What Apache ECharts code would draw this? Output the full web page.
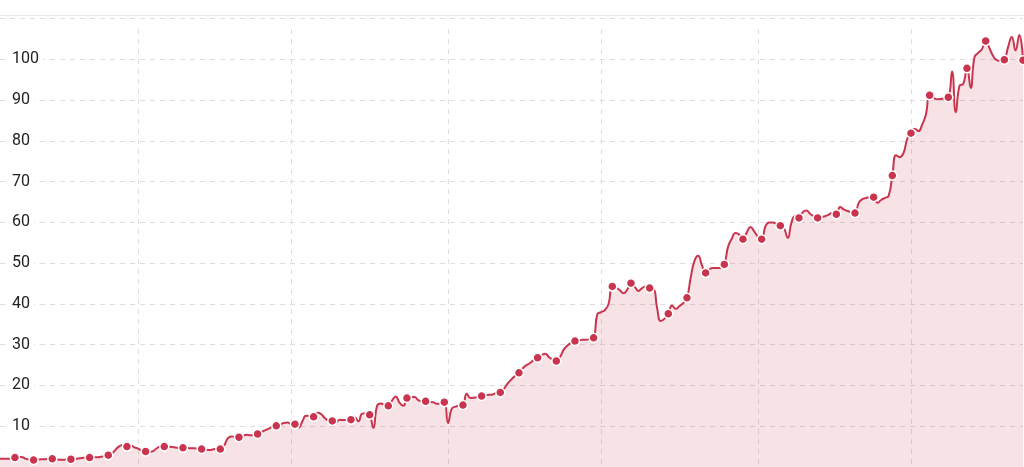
<!DOCTYPE html>
<html>
<head>
<meta charset="utf-8">
<script src="https://cdn.jsdelivr.net/npm/echarts@6/dist/echarts.min.js"></script>
<style>html,body{margin:0;padding:0;background:#fff}#c{width:1024px;height:467px}</style>
</head>
<body>
<div id="c"></div>
<script>
// Series values (one row per symbol interval: 4 in-between points + the marked point)
const values = [
  2.0, 2.0, 2.0, 2.1, 2.3,
  2.5, 2.4, 2.0, 1.8, 1.7,
  1.8, 1.9, 1.9, 2.0, 2.0,
  1.9, 1.8, 1.8, 1.9, 1.9,
  2.0, 2.1, 2.2, 2.3, 2.3,
  2.4, 2.4, 2.5, 2.7, 2.9,
  3.3, 4.3, 5.1, 5.4, 5.0,
  5.3, 4.8, 4.5, 4.0, 3.8,
  3.7, 3.9, 4.6, 5.0, 5.0,
  5.0, 4.9, 4.8, 4.7, 4.7,
  4.7, 4.6, 4.6, 4.5, 4.4,
  4.3, 4.2, 4.3, 4.5, 4.4,
  5.2, 7.0, 7.5, 7.4, 7.3,
  7.6, 7.9, 7.8, 7.8, 8.1,
  8.6, 9.0, 9.4, 9.9, 10.1,
  10.4, 10.8, 10.9, 10.5, 10.5,
  9.7, 11.2, 12.6, 12.5, 12.3,
  13.3, 13.0, 12.0, 11.4, 11.3,
  11.0, 11.6, 11.5, 11.5, 11.6,
  12.2, 11.2, 13.1, 13.2, 12.8,
  9.6, 15.0, 15.6, 15.2, 15.0,
  16.3, 17.3, 15.8, 15.0, 16.9,
  17.2, 17.2, 16.4, 16.1, 16.1,
  16.0, 15.9, 15.5, 15.6, 15.9,
  10.8, 14.3, 14.8, 15.0, 15.2,
  18.0, 16.9, 17.0, 17.2, 17.4,
  17.6, 17.7, 17.8, 18.2, 18.3,
  19.2, 20.5, 21.5, 22.4, 23.1,
  24.2, 25.0, 25.5, 26.3, 26.8,
  27.4, 27.8, 27.0, 26.3, 26.0,
  27.0, 28.8, 29.8, 30.5, 30.9,
  31.0, 31.2, 31.2, 31.4, 31.7,
  37.5, 38.0, 38.5, 40.0, 44.3,
  44.0, 43.4, 42.6, 43.5, 45.1,
  44.2, 43.2, 43.9, 44.3, 43.9,
  43.8, 39.0, 35.8, 36.4, 37.6,
  39.6, 38.8, 39.5, 40.2, 41.5,
  46.5, 50.5, 51.8, 49.5, 47.6,
  48.5, 48.8, 48.8, 48.9, 49.7,
  54.0, 56.0, 57.4, 57.0, 55.9,
  57.5, 58.9, 57.8, 56.5, 55.9,
  59.0, 60.0, 60.0, 59.6, 59.2,
  58.5, 56.2, 60.0, 61.6, 61.1,
  62.5, 62.9, 62.1, 61.5, 61.1,
  61.3, 61.5, 61.9, 62.4, 62.0,
  63.8, 63.2, 62.8, 62.5, 62.3,
  64.8, 65.7, 66.0, 66.2, 66.2,
  64.8, 65.5, 66.0, 66.5, 71.5,
  76.5, 76.0, 77.0, 80.5, 81.9,
  83.0, 82.4, 84.0, 86.5, 91.2,
  90.6, 90.2, 90.3, 90.5, 90.7,
  97.0, 87.0, 93.5, 94.0, 97.8,
  93.0, 100.5, 101.6, 102.5, 104.5,
  102.8, 100.8, 99.8, 99.6, 99.9,
  103.0, 105.5, 102.2, 106.0, 99.8
];
// Category positions (labels are not shown in the chart)
const categories = values.map((_, i) => String(i + 1));
// Indices of categories that carry a vertical divider
const dividerIndices = [37, 78, 120, 161, 203, 244];
// Y axis ticks
const yMin = 0, yMax = 110, yStep = 10;

const lineColor = '#c9354e';
const gridColor = '#dedede';

const chart = echarts.init(document.getElementById('c'), null, {renderer: 'canvas'});
chart.setOption({
  animation: false,
  backgroundColor: '#fff',
  grid: [
    {left: 0, right: 1, top: 18.6, bottom: 0},
    {left: 0, right: 1, top: 29, bottom: 0}
  ],
  xAxis: [
    {
      type: 'category', gridIndex: 0, data: categories, boundaryGap: false,
      position: 'top', offset: 3,
      axisLine: {show: true, onZero: false, lineStyle: {color: '#e8e8e8', width: 1}},
      axisTick: {show: false}, axisLabel: {show: false}, splitLine: {show: false}
    },
    {
      type: 'category', gridIndex: 1, data: categories, boundaryGap: false,
      axisLine: {show: false}, axisTick: {show: false}, axisLabel: {show: false},
      splitLine: {
        show: true,
        interval: (i) => dividerIndices.indexOf(i) >= 0,
        lineStyle: {color: gridColor, width: 1, type: [5, 5]}
      }
    }
  ],
  yAxis: [
    {
      type: 'value', gridIndex: 0, min: yMin, max: yMax, interval: yStep, z: 10,
      axisLine: {show: false}, axisTick: {show: false}, splitLine: {show: false},
      axisLabel: {
        inside: true, margin: 8, padding: [1, 4], backgroundColor: '#fff',
        color: '#222', fontSize: 16, fontFamily: 'Roboto',
        showMinLabel: false, showMaxLabel: false
      }
    },
    {
      type: 'value', gridIndex: 0, min: yMin, max: yMax, interval: yStep, position: 'left', z: 0,
      axisLine: {show: false}, axisTick: {show: false}, axisLabel: {show: false},
      splitLine: {show: true, lineStyle: {color: gridColor, width: 1, type: [5, 5]}}
    },
    {type: 'value', gridIndex: 1, show: false, min: yMin, max: yMax}
  ],
  series: [{
    type: 'line', xAxisIndex: 0, yAxisIndex: 0, data: values,
    smooth: true, showSymbol: true, showAllSymbol: true,
    symbol: (v, p) => (p.dataIndex % 5 === 4 ? 'circle' : 'none'),
    symbolSize: 9,
    lineStyle: {color: lineColor, width: 2},
    itemStyle: {color: lineColor, borderColor: '#fff', borderWidth: 1.5},
    areaStyle: {color: 'rgba(201,53,78,0.2)'},
    z: 3
  }]
});
</script>
</body>
</html>
